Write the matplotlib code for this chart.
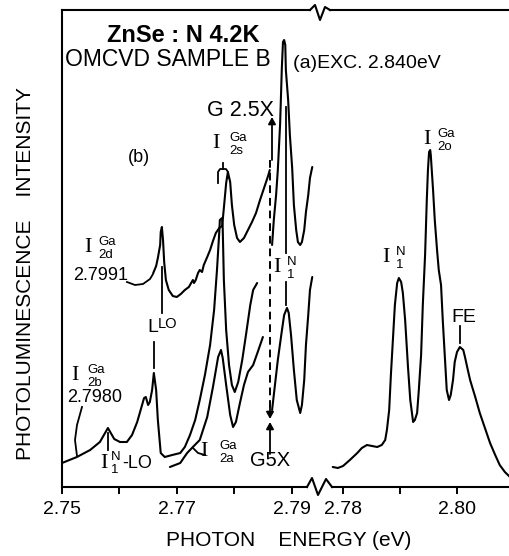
import matplotlib
matplotlib.use("Agg")
import matplotlib.pyplot as plt
from matplotlib.lines import Line2D

# ---- traced spectra: photon energy (eV) vs PL intensity (arb. units) ----
# left panel, upper trace (I2d side), before the gain change
upper_e = [2.7659, 2.7664, 2.7667, 2.7671, 2.7672, 2.7674, 2.7676, 2.7678, 2.7681,
           2.7686, 2.7693, 2.7700, 2.7707, 2.7714, 2.7721, 2.7725, 2.7728, 2.7730,
           2.7733, 2.7737, 2.7740, 2.7744, 2.7747, 2.7753, 2.7758, 2.7763, 2.7768,
           2.7774, 2.7779, 2.7782, 2.7786, 2.7789, 2.7793, 2.7796, 2.7800, 2.7805,
           2.7810, 2.7817, 2.7824, 2.7831, 2.7838, 2.7845, 2.7852, 2.7859, 2.7862]
upper_i = [214, 221, 229, 242, 255, 260, 247, 225, 207,
           197, 191, 190, 193, 197, 200, 204, 207, 204,
           207, 214, 217, 215, 222, 230, 237, 246, 254,
           259, 261, 279, 304, 315, 305, 282, 262, 249,
           245, 249, 257, 265, 274, 287, 299, 311, 317]

# upper trace after the gain change (G 2.5X)
upper_g_e = [2.7866, 2.7869, 2.7873, 2.7876, 2.7880, 2.7883, 2.7885, 2.7887, 2.7889,
             2.7890, 2.7894, 2.7897, 2.7901, 2.7904, 2.7908, 2.7911, 2.7915, 2.7918,
             2.7922, 2.7925, 2.7929, 2.7932, 2.7936]
upper_g_i = [242, 267, 292, 317, 363, 419, 445, 447, 442,
             417, 387, 352, 319, 282, 257, 245, 242, 245,
             257, 275, 292, 309, 320]

# left panel, middle trace (I2b, starts at the baseline)
mid_e = [2.7500, 2.7526, 2.7549, 2.7566, 2.7575, 2.7580, 2.7584, 2.7591, 2.7601,
         2.7613, 2.7622, 2.7631, 2.7638, 2.7643, 2.7646, 2.7650, 2.7653, 2.7657,
         2.7660, 2.7664, 2.7667, 2.7672, 2.7679, 2.7692, 2.7706, 2.7714, 2.7723,
         2.7732, 2.7740, 2.7749, 2.7758, 2.7765, 2.7770, 2.7774, 2.7775, 2.7779,
         2.7780, 2.7782, 2.7786, 2.7791, 2.7796, 2.7801, 2.7807, 2.7814, 2.7821,
         2.7828, 2.7833, 2.7840]
mid_i = [24, 30, 37, 45, 54, 59, 55, 48, 45,
         45, 52, 65, 79, 89, 90, 82, 85, 97,
         114, 97, 67, 34, 30, 32, 34, 40, 52,
         67, 87, 112, 142, 177, 217, 255, 267, 269,
         259, 207, 157, 122, 102, 95, 105, 127, 154,
         182, 197, 204]

# left panel, lower trace (I2a), before and after the gain change (G 5X)
low_e = [2.7688, 2.7706, 2.7718, 2.7728, 2.7740, 2.7753, 2.7763, 2.7772, 2.7777,
         2.7780, 2.7786, 2.7793, 2.7798, 2.7803, 2.7810, 2.7817, 2.7824, 2.7833,
         2.7841, 2.7850]
low_i = [20, 24, 34, 40, 47, 70, 100, 130, 137,
         129, 102, 72, 60, 65, 84, 102, 115, 122,
         135, 150]

low_g_e = [2.7866, 2.7871, 2.7876, 2.7882, 2.7887, 2.7892, 2.7895, 2.7899, 2.7904,
           2.7909, 2.7915, 2.7918, 2.7922, 2.7925, 2.7929, 2.7932, 2.7936]
low_g_i = [77, 102, 127, 152, 172, 179, 174, 152, 117,
           87, 74, 82, 107, 142, 172, 197, 210]

# right panel, spectrum (a): I1N, I2o and FE
right_e = [2.7782, 2.7791, 2.7800, 2.7812, 2.7825, 2.7833, 2.7842, 2.7851, 2.7860,
           2.7868, 2.7874, 2.7877, 2.7881, 2.7884, 2.7888, 2.7891, 2.7895, 2.7898,
           2.7902, 2.7905, 2.7909, 2.7914, 2.7918, 2.7923, 2.7926, 2.7930, 2.7933,
           2.7937, 2.7940, 2.7944, 2.7947, 2.7949, 2.7951, 2.7953, 2.7954, 2.7958,
           2.7961, 2.7965, 2.7968, 2.7972, 2.7975, 2.7979, 2.7982, 2.7986, 2.7989,
           2.7993, 2.7996, 2.8000, 2.8005, 2.8011, 2.8014, 2.8019, 2.8023, 2.8032,
           2.8040, 2.8049, 2.8058, 2.8067, 2.8075, 2.8084, 2.8093]
right_i = [20, 19, 21, 27, 34, 39, 42, 41, 40,
           42, 47, 57, 77, 112, 152, 182, 204, 209,
           205, 194, 167, 120, 87, 65, 67, 74, 97,
           132, 182, 232, 287, 317, 335, 337, 332, 297,
           267, 237, 217, 202, 167, 127, 97, 87, 92,
           107, 125, 135, 140, 137, 130, 117, 107, 90,
           74, 59, 44, 32, 22, 15, 10]

left_ticks = [2.75, 2.76, 2.77, 2.78, 2.79]
left_ticklabels = ["2.75", "", "2.77", "", "2.79"]
right_ticks = [2.78, 2.79, 2.80]
right_ticklabels = ["2.78", "", "2.80"]

W, H = 510, 556
plt.rcParams["font.family"] = ["Liberation Sans", "DejaVu Sans"]
fig = plt.figure(figsize=(W / 100, H / 100), dpi=100)

# broken energy axis: two panels sharing the intensity scale
ax_l = fig.add_axes([62 / W, 69 / H, 256 / W, 477 / H])
ax_r = fig.add_axes([318 / W, 69 / H, 192 / W, 477 / H])
ax_l.set_xlim(2.75, 2.79460)
ax_r.set_xlim(2.77561, 2.80930)
for ax in (ax_l, ax_r):
    ax.set_ylim(0, 477)
    ax.patch.set_visible(False)
    ax.spines["right"].set_visible(False)
    for s in ax.spines.values():
        s.set_linewidth(1.5)
    ax.tick_params(axis="x", direction="out", length=5, width=1.4,
                   labelsize=14, pad=5)
    ax.set_yticks([])
ax_r.spines["left"].set_visible(False)
ax_l.spines["bottom"].set_bounds(2.75, 2.79268)
ax_l.spines["top"].set_bounds(2.75, 2.79321)
ax_r.spines["bottom"].set_bounds(2.77807, 2.8093)
ax_r.spines["top"].set_bounds(2.77772, 2.8093)
ax_l.set_xticks(left_ticks, left_ticklabels)
ax_r.set_xticks(right_ticks, right_ticklabels)

kw = dict(color="black", lw=1.5, solid_capstyle="round", solid_joinstyle="round")
ax_l.plot(upper_e, upper_i, **kw)
ax_l.plot(upper_g_e, upper_g_i, **kw)
ax_l.plot(mid_e, mid_i, **kw)
ax_l.plot(low_e, low_i, **kw)
ax_l.plot(low_g_e, low_g_i, **kw)
ax_r.plot(right_e, right_i, **kw)


def fx(px):
    return px / W


def fy(py):
    return 1 - py / H


def ftext(px, py, s, **kw):
    kw.setdefault("va", "center")
    kw.setdefault("ha", "left")
    fig.text(fx(px), fy(py), s, **kw)


def fline(pts, **kw):
    kw.setdefault("color", "black")
    kw.setdefault("lw", 1.3)
    fig.add_artist(Line2D([fx(p[0]) for p in pts], [fy(p[1]) for p in pts],
                          transform=fig.transFigure, **kw))


def farrow(tail, tip, **kw):
    fig.add_artist(matplotlib.patches.FancyArrowPatch(
        (fx(tail[0]), fy(tail[1])), (fx(tip[0]), fy(tip[1])),
        transform=fig.transFigure, arrowstyle="-|>,head_length=4,head_width=2.2",
        color="black", lw=1.3, shrinkA=0, shrinkB=0, **kw))


def ilabel(ix, iy, sup, sub, dx=10, isize=16, ssize=9.5):
    # serif I with stacked superscript / subscript
    ftext(ix, iy, "I", family="Liberation Serif", fontsize=isize, ha="center")
    ftext(ix + dx, iy, sup, fontsize=ssize, va="bottom")
    ftext(ix + dx, iy + 1, sub, fontsize=ssize, va="top")


# axis breaks
fline([(307, 487), (312, 478), (318, 495), (326, 479), (332, 487)], lw=1.5)
fline([(310, 10), (315, 5), (320, 20), (325, 7), (330, 10)], lw=1.5)

# titles and axis labels
ftext(107, 35, "ZnSe : N 4.2K", fontsize=17, fontweight="bold")
ftext(65, 60, "OMCVD SAMPLE B", fontsize=16.5)
ftext(293, 64, "(a)EXC. 2.840eV", fontsize=14)
ftext(128, 157, "(b)", fontsize=13)
ftext(289, 540, "PHOTON    ENERGY (eV)", fontsize=15, ha="center")
ftext(26, 274, "PHOTOLUMINESCENCE    INTENSITY", fontsize=15, ha="center",
      rotation=90)

# gain markers
ftext(207, 110, "G 2.5X", fontsize=15.5)
ftext(250, 461, "G5X", fontsize=14.5)
fline([(270, 160), (270, 410)], lw=1.4, dashes=(4, 2.5))
farrow((270, 408), (270, 419))
farrow((272, 160), (272, 117))
farrow((270, 454), (270, 422))

# peak labels
ilabel(427, 140, "Ga", "2o")
ilabel(216, 144, "Ga", "2s", dx=13)
ilabel(88, 248, "Ga", "2d")
ilabel(75, 376, "Ga", "2b", dx=12)
ilabel(204, 452, "Ga", "2a", dx=15)
ilabel(277, 268, "N", "1")
ilabel(386, 258, "N", "1")
ilabel(104, 463, "N", "1", dx=7)
ftext(122, 464, "-LO", fontsize=13)
ftext(73, 276, "2.7991", fontsize=13)
ftext(67, 397, "2.7980", fontsize=13)
ftext(451, 317, "FE", fontsize=14)
ftext(147, 327, "L", fontsize=14)
ftext(158, 324, "LO", fontsize=10.5)

# marker ticks and leaders
fline([(162, 267), (162, 313)])
fline([(154, 342), (154, 368)])
fline([(108, 433), (108, 450)])
fline([(286, 107), (286, 253)])
fline([(286, 282), (286, 305)])
fline([(460, 326), (460, 343)])
fline([(223, 163), (223, 169)])
fline([(218, 183), (218, 172), (220, 169), (226, 169), (228, 172), (228, 178)])
fline([(127, 282), (135, 285), (143, 284), (150, 279), (153, 274)])
fline([(82, 407), (77, 425), (75, 440), (77, 456)])
fline([(193, 448), (198, 453), (205, 455)])

fig.savefig("out.png", dpi=100)
